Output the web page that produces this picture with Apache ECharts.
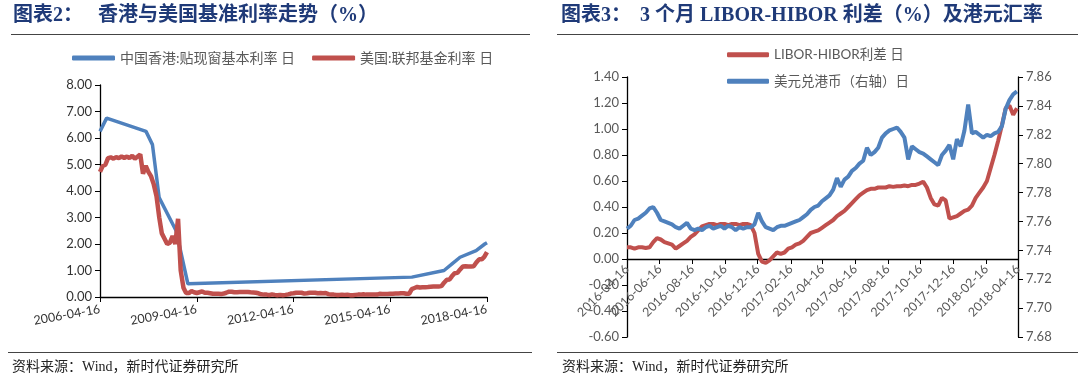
<!DOCTYPE html>
<html><head><meta charset="utf-8">
<script src="https://cdn.jsdelivr.net/npm/echarts@6/dist/echarts.min.js"></script>
<style>html,body{margin:0;padding:0;background:#fff}#c{width:1080px;height:386px}</style>
</head><body><div id="c"></div>
<script>
// ---------- Chart 2: HK base rate vs US Fed funds ----------
const leftXTicks = ['2006-04-16','2009-04-16','2012-04-16','2015-04-16','2018-04-16'];
const hkBaseDates = ['2006-04-16','2006-06-30','2007-09-19','2007-12-01','2008-02-15','2008-08-25','2009-01-05','2015-12-17','2016-12-15','2017-03-16','2017-06-15','2017-12-14','2018-03-22','2018-04-16'];
const hkBaseVals  = [6.25, 6.75, 6.25, 5.75, 3.75, 2.5, 0.5, 0.75, 1.0, 1.25, 1.5, 1.75, 2.0, 2.05];
// US effective fed funds rate, one reading per month (16th), from 2006-04
const usRateStart = '2006-04-16';
const usRate2006 = [4.72, 4.94, 4.99, 5.24, 5.27, 5.22, 5.28, 5.24, 5.30];
const usRate2007 = [5.25, 5.30, 5.24, 5.33, 5.22, 5.30, 5.38, 4.65, 4.95, 4.72, 4.55, 4.25];
const usRate2008 = [3.80, 3.00, 2.40, 2.20, 2.00, 2.05, 2.30, 2.00, 2.95, 1.00, 0.35, 0.15];
const usRate2009 = [0.15, 0.22, 0.18, 0.15, 0.18, 0.21, 0.16, 0.16, 0.14, 0.12, 0.12, 0.12];
const usRate2010 = [0.11, 0.13, 0.16, 0.20, 0.20, 0.18, 0.18, 0.19, 0.19, 0.19, 0.19, 0.18];
const usRate2011 = [0.17, 0.16, 0.14, 0.10, 0.09, 0.09, 0.07, 0.10, 0.08, 0.07, 0.08, 0.07];
const usRate2012 = [0.08, 0.10, 0.13, 0.14, 0.16, 0.16, 0.16, 0.13, 0.14, 0.16, 0.16, 0.16];
const usRate2013 = [0.14, 0.15, 0.14, 0.15, 0.11, 0.09, 0.09, 0.08, 0.08, 0.09, 0.08, 0.09];
const usRate2014 = [0.07, 0.07, 0.08, 0.09, 0.09, 0.10, 0.09, 0.09, 0.09, 0.09, 0.09, 0.12];
const usRate2015 = [0.11, 0.11, 0.11, 0.12, 0.12, 0.13, 0.13, 0.14, 0.14, 0.12, 0.12, 0.30];
const usRate2016 = [0.34, 0.38, 0.36, 0.37, 0.37, 0.38, 0.39, 0.40, 0.40, 0.40, 0.41, 0.54];
const usRate2017 = [0.65, 0.66, 0.79, 0.90, 0.91, 1.04, 1.15, 1.16, 1.15, 1.15, 1.16, 1.30];
const usRate2018 = [1.42, 1.42, 1.51, 1.69];

// ---------- Chart 3: LIBOR-HIBOR spread & USD/HKD ----------
const rightXTicks = ['2016-04-16','2016-06-16','2016-08-16','2016-10-16','2016-12-16','2017-02-16','2017-04-16','2017-06-16','2017-08-16','2017-10-16','2017-12-16','2018-02-16','2018-04-16'];
// weekly readings starting 2016-04-16
const weeklyStart = '2016-04-16';
const spread = [0.09,0.09,0.08,0.09,0.09,0.085,0.09,0.13,0.16,0.15,0.13,0.12,0.11,0.08,0.10,0.12,0.14,0.17,0.19,0.22,
 0.25,0.26,0.27,0.27,0.26,0.27,0.27,0.26,0.27,0.27,0.26,0.27,0.27,0.26,0.20,0.04,-0.02,-0.03,-0.01,0.02,
 0.05,0.04,0.05,0.08,0.09,0.11,0.12,0.14,0.17,0.20,0.21,0.22,0.24,0.26,0.28,0.30,0.33,0.35,0.37,0.40,
 0.43,0.46,0.49,0.51,0.53,0.54,0.54,0.55,0.55,0.55,0.56,0.555,0.56,0.56,0.565,0.56,0.57,0.57,0.58,0.595,
 0.55,0.47,0.42,0.41,0.47,0.45,0.31,0.32,0.33,0.35,0.37,0.38,0.41,0.47,0.51,0.55,0.60,0.70,0.80,0.91,
 1.03,1.16,1.18,1.11,1.16];
const usdhkd = [7.755,7.757,7.761,7.762,7.764,7.766,7.769,7.770,7.766,7.761,7.760,7.759,7.758,7.756,7.755,7.757,7.759,7.755,7.754,7.755,
 7.754,7.756,7.757,7.755,7.756,7.757,7.755,7.757,7.756,7.754,7.756,7.755,7.756,7.756,7.758,7.766,7.760,7.756,7.755,7.754,
 7.756,7.757,7.757,7.758,7.759,7.760,7.761,7.763,7.765,7.768,7.770,7.771,7.774,7.776,7.778,7.782,7.790,7.784,7.789,7.791,
 7.795,7.797,7.800,7.802,7.811,7.806,7.808,7.811,7.818,7.821,7.823,7.824,7.825,7.822,7.818,7.803,7.812,7.810,7.808,7.807,
 7.805,7.803,7.801,7.799,7.806,7.809,7.813,7.803,7.817,7.812,7.823,7.841,7.821,7.822,7.820,7.818,7.820,7.819,7.821,7.822,
 7.826,7.838,7.844,7.848,7.850];

// ---------- helpers ----------
function ts(s){const [y,m,d]=s.split('-').map(Number);return new Date(y,m-1,d).getTime();}
function pad(n){return (n<10?'0':'')+n;}
function fmtDate(v){const d=new Date(v);return d.getFullYear()+'-'+pad(d.getMonth()+1)+'-'+pad(d.getDate());}
function monthlySeries(start, vals){const [y,m,d]=start.split('-').map(Number);return vals.map((v,i)=>[new Date(y,m-1+i,d).getTime(),v]);}
function weeklySeries(start, vals){const [y,m,d]=start.split('-').map(Number);return vals.map((v,i)=>[new Date(y,m-1,d+7*i).getTime(),v]);}

const usRate = [].concat(usRate2006,usRate2007,usRate2008,usRate2009,usRate2010,usRate2011,usRate2012,usRate2013,usRate2014,usRate2015,usRate2016,usRate2017,usRate2018);
const hkBaseData = hkBaseDates.map((d,i)=>[ts(d),hkBaseVals[i]]);
const usData = monthlySeries(usRateStart, usRate);
const spreadData = weeklySeries(weeklyStart, spread);
const hkdData = weeklySeries(weeklyStart, usdhkd);

const BLUE='#4F81BD', RED='#C0504D', NAVY='#1F3A78';
const axisFont = 'Lato';
const cjk = '"Liberation Serif","Noto Sans CJK SC"';

// right plot: top 77, height 260, y range -0.6..1.4 -> zero line height from top
const R_TOP = 77, R_H = 260, R_MIN = -0.6, R_MAX = 1.4;
const zeroH = R_H * (R_MAX - 0) / (R_MAX - R_MIN);

const chart = echarts.init(document.getElementById('c'));
chart.setOption({
  animation:false,
  backgroundColor:'#fff',
  grid:[
    {left:100, top:85, width:387, height:212},
    {left:627, top:R_TOP, width:391, height:R_H},
    {left:627, top:R_TOP, width:391, height:zeroH}   // carries the x-axis drawn at the zero line
  ],
  legend:[
    {data:['中国香港:贴现窗基本利率 日','美国:联邦基金利率 日'], left:67, top:46, itemWidth:43, itemHeight:5, icon:'roundRect', itemGap:17,
     textStyle:{fontSize:14, color:'#595959', fontFamily:'Lato,"Noto Sans CJK SC"'}},
    {data:['LIBOR-HIBOR利差 日','美元兑港币（右轴）日'], orient:'vertical', left:722, top:43, itemWidth:42, itemHeight:5, icon:'roundRect', itemGap:13,
     textStyle:{fontSize:13.5, color:'#595959', fontFamily:'Lato,"Noto Sans CJK SC"'}}
  ],
  xAxis:[
    {gridIndex:0, type:'value', min:ts('2006-04-16'), max:ts('2018-04-16'), splitLine:{show:false},
     axisLine:{lineStyle:{color:'#000', width:1.3}},
     axisTick:{customValues:leftXTicks.map(ts), length:5, lineStyle:{color:'#000'}},
     axisLabel:{customValues:leftXTicks.map(ts), formatter:fmtDate, rotate:10, margin:12, fontSize:12.5, color:'#333', fontFamily:axisFont}},
    {gridIndex:1, type:'value', min:ts('2016-04-16'), max:ts('2018-04-16'), show:false, splitLine:{show:false}},
    {gridIndex:2, type:'value', min:ts('2016-04-16'), max:ts('2018-04-16'), splitLine:{show:false},
     axisLine:{onZero:false, lineStyle:{color:'#000', width:1.3}},
     axisTick:{customValues:rightXTicks.map(ts), length:5, lineStyle:{color:'#000'}},
     axisLabel:{customValues:rightXTicks.map(ts), formatter:fmtDate, rotate:45, margin:8, fontSize:12.5, color:'#595959', fontFamily:axisFont}}
  ],
  yAxis:[
    {gridIndex:0, type:'value', min:0, max:8, interval:1, splitLine:{show:false},
     axisLine:{show:true, lineStyle:{color:'#000', width:1.3}}, axisTick:{show:true, length:5, lineStyle:{color:'#000'}},
     axisLabel:{formatter:v=>v.toFixed(2), fontSize:13, color:'#333', fontFamily:axisFont, margin:8}},
    {gridIndex:1, type:'value', min:R_MIN, max:R_MAX, interval:0.2, splitLine:{show:false},
     axisLine:{show:true, lineStyle:{color:'#000', width:1.3}}, axisTick:{show:true, length:5, lineStyle:{color:'#000'}},
     axisLabel:{formatter:v=>v.toFixed(2), fontSize:13, color:'#595959', fontFamily:axisFont, margin:8}},
    {gridIndex:1, type:'value', position:'right', min:7.68, max:7.86, interval:0.02, splitLine:{show:false},
     axisLine:{show:true, onZero:false, lineStyle:{color:'#000', width:1.3}}, axisTick:{show:true, length:5, lineStyle:{color:'#000'}},
     axisLabel:{formatter:v=>v.toFixed(2), fontSize:13, color:'#595959', fontFamily:axisFont, margin:8}},
    {gridIndex:2, type:'value', min:0, max:1, show:false}
  ],
  series:[
    {name:'中国香港:贴现窗基本利率 日', type:'line', xAxisIndex:0, yAxisIndex:0, data:hkBaseData, showSymbol:false, color:BLUE, lineStyle:{width:3.5, color:BLUE}},
    {name:'美国:联邦基金利率 日', type:'line', xAxisIndex:0, yAxisIndex:0, data:usData, showSymbol:false, color:RED, lineStyle:{width:4.5, color:RED}},
    {name:'LIBOR-HIBOR利差 日', type:'line', xAxisIndex:1, yAxisIndex:1, data:spreadData, showSymbol:false, color:RED, lineStyle:{width:4, color:RED}},
    {name:'美元兑港币（右轴）日', type:'line', xAxisIndex:1, yAxisIndex:2, data:hkdData, showSymbol:false, color:BLUE, lineStyle:{width:4, color:BLUE}}
  ],
  graphic:[
    {type:'text', left:13, top:6, style:{text:'图表2：', fontSize:20, fontWeight:'bold', fontFamily:cjk, fill:NAVY}},
    {type:'text', left:98, top:6, style:{text:'香港与美国基准利率走势（%）', fontSize:20, fontWeight:'bold', fontFamily:cjk, fill:NAVY}},
    {type:'text', left:561, top:6, style:{text:'图表3：', fontSize:20, fontWeight:'bold', fontFamily:cjk, fill:NAVY}},
    {type:'text', left:640, top:6, style:{text:'3 个月 LIBOR-HIBOR 利差（%）及港元汇率', fontSize:20, fontWeight:'bold', fontFamily:cjk, fill:NAVY}},
    {type:'line', shape:{x1:11, y1:34.5, x2:530, y2:34.5}, style:{stroke:'#444', lineWidth:1.2}},
    {type:'line', shape:{x1:557, y1:34.5, x2:1078, y2:34.5}, style:{stroke:'#444', lineWidth:1.2}},
    {type:'line', shape:{x1:8, y1:352.5, x2:532, y2:352.5}, style:{stroke:'#444', lineWidth:1.2}},
    {type:'line', shape:{x1:557, y1:352.5, x2:1078, y2:352.5}, style:{stroke:'#444', lineWidth:1.2}},
    {type:'text', left:12, top:360, style:{text:'资料来源：Wind，新时代证券研究所', fontSize:14, fontFamily:cjk, fill:'#222'}},
    {type:'text', left:562, top:360, style:{text:'资料来源：Wind，新时代证券研究所', fontSize:14, fontFamily:cjk, fill:'#222'}}
  ]
});
</script>
</body></html>
